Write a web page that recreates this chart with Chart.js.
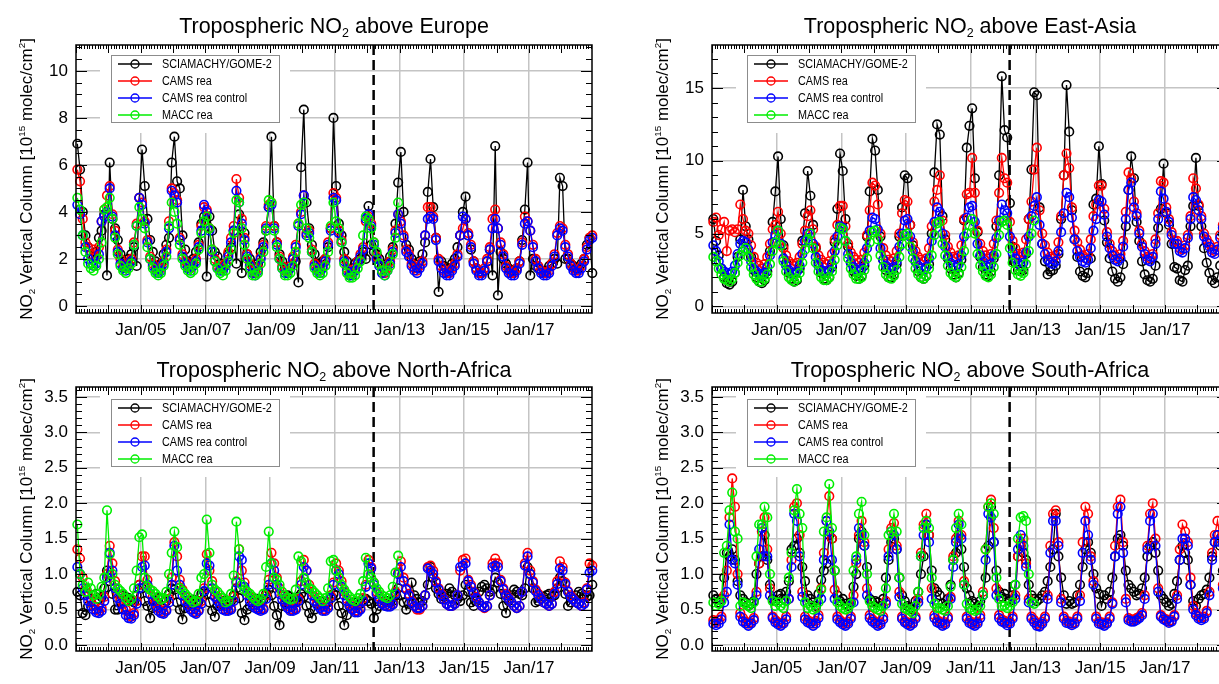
<!DOCTYPE html>
<html>
<head>
<meta charset="utf-8">
<title>Tropospheric NO2 columns</title>
<script src="https://cdn.jsdelivr.net/npm/chart.js@4.4.1/dist/chart.umd.min.js"></script>
<style>
  html, body { margin: 0; padding: 0; background: #fff; overflow: hidden; width: 1219px; height: 684px; }
  canvas { position: absolute; }
</style>
</head>
<body>
<canvas id="cEur" width="610" height="342" style="left:0;top:0"></canvas>
<canvas id="cAsia" width="610" height="342" style="left:636px;top:0"></canvas>
<canvas id="cNafr" width="610" height="342" style="left:0;top:342px"></canvas>
<canvas id="cSafr" width="610" height="342" style="left:636px;top:342px"></canvas>
<script>
// monthly means, Jan 2003 .. Dec 2018 (MACC rea stops Dec 2012)
const seriesLabels = ['SCIAMACHY/GOME-2', 'CAMS rea', 'CAMS rea control', 'MACC rea'];
const yearTicks = [2005, 2007, 2009, 2011, 2013, 2015, 2017];
const switchYear = 2012.2; // SCIAMACHY -> GOME-2
const euTicks = [0, 2, 4, 6, 8, 10];
const eaTicks = [0, 5, 10, 15];
const afTicks = [0, 0.5, 1, 1.5, 2, 2.5, 3, 3.5];

// ---- Europe ----
const euSat = [
  6.9, 5.8, 4.0, 3.0, 2.5, 2.2, 2.1, 2.3, 2.9, 3.2, 3.9, 1.3,
  6.1, 3.7, 3.3, 2.8, 2.2, 1.9, 1.8, 2.0, 2.2, 2.5, 1.7, 4.6,
  6.65, 5.1, 3.7, 2.8, 2.3, 1.9, 1.7, 1.8, 2.2, 2.6, 2.9, 6.1,
  7.2, 5.3, 5.0, 3.0, 2.4, 1.9, 1.8, 2.0, 2.3, 2.7, 3.5, 3.8,
  1.25, 3.8, 3.2, 2.3, 2.1, 1.8, 1.7, 1.8, 2.2, 2.5, 3.2, 1.8,
  3.9, 1.4, 3.1, 2.2, 2.0, 1.7, 1.6, 1.8, 2.3, 2.7, 3.2, 4.2,
  7.2, 3.4, 2.7, 2.2, 1.9, 1.6, 1.5, 1.7, 2.0, 1.9, 1.0, 5.9,
  8.35, 4.4, 3.3, 2.6, 2.2, 1.8, 1.7, 1.9, 2.0, 2.5, 3.3, 8.0,
  5.1, 3.5, 3.0, 2.3, 1.9, 1.3, 1.6, 1.8, 1.9, 2.0, 2.3, 2.0,
  4.25, 2.6, 2.3, 2.2, 2.0, 1.7, 1.6, 1.8, 2.1, 2.5, 3.5, 5.25,
  6.55, 4.0, 2.6, 2.4, 2.0, 1.8, 1.6, 1.9, 2.2, 2.7, 4.85, 6.25,
  4.2, 2.9, 0.6, 1.9, 1.7, 1.6, 1.6, 1.8, 2.0, 2.5, 3.0, 4.0,
  4.65, 3.0, 2.4, 1.9, 1.6, 1.4, 1.4, 1.5, 1.9, 2.4, 1.3, 6.8,
  0.45, 2.3, 2.0, 1.8, 1.6, 1.5, 1.5, 1.6, 1.9, 2.8, 4.1, 6.1,
  1.3, 2.0, 1.7, 1.6, 1.5, 1.4, 1.5, 1.7, 1.8, 2.0, 1.8, 5.45,
  5.1, 2.0, 2.0, 1.8, 1.7, 1.6, 1.6, 1.8, 2.0, 2.6, 2.9, 1.4
];
const euCams = [
  5.8, 5.3, 3.7, 2.7, 2.5, 2.2, 2.4, 2.1, 2.5, 3.6, 4.1, 4.7,
  5.1, 3.9, 3.2, 2.4, 2.0, 1.7, 1.6, 1.8, 2.0, 2.7, 3.5, 4.6,
  4.4, 3.6, 2.8, 2.1, 1.8, 1.6, 1.5, 1.6, 1.9, 2.4, 3.6, 5.0,
  4.8, 4.5, 2.9, 2.2, 1.9, 1.7, 1.6, 1.8, 2.0, 2.6, 3.4, 4.2,
  4.1, 3.3, 2.4, 2.0, 1.7, 1.6, 1.6, 1.8, 2.3, 2.9, 3.4, 5.4,
  4.6, 3.7, 2.9, 2.2, 1.8, 1.5, 1.4, 1.6, 2.1, 2.6, 3.4, 4.3,
  4.4, 3.4, 2.7, 2.1, 1.7, 1.5, 1.5, 1.7, 2.1, 2.6, 3.5, 4.0,
  4.7, 3.1, 3.2, 2.4, 1.8, 1.6, 1.5, 1.7, 2.0, 2.7, 3.3, 4.8,
  4.6, 3.2, 2.8, 2.0, 1.6, 1.4, 1.4, 1.6, 1.9, 2.2, 2.5, 3.6,
  3.8, 3.5, 2.7, 2.1, 1.8, 1.5, 1.4, 1.6, 1.9, 2.4, 3.2, 3.9,
  3.6, 3.0, 2.4, 2.2, 1.8, 1.6, 1.5, 1.7, 1.9, 3.0, 4.2, 4.2,
  3.8, 2.9, 2.0, 1.7, 1.5, 1.4, 1.4, 1.6, 1.8, 2.2, 3.0, 3.3,
  3.7, 3.1, 2.6, 1.9, 1.6, 1.4, 1.4, 1.6, 2.0, 2.5, 3.7, 4.1,
  3.3, 2.7, 2.2, 1.7, 1.5, 1.4, 1.4, 1.6, 1.9, 2.7, 3.8, 3.6,
  3.2, 2.6, 2.0, 1.7, 1.5, 1.4, 1.4, 1.5, 1.8, 2.2, 3.1, 3.4,
  3.3, 2.6, 2.2, 1.8, 1.6, 1.5, 1.5, 1.7, 2.0, 2.5, 2.9, 3.0
];
const euCtl = [
  4.3, 3.9, 3.0, 2.5, 2.0, 1.8, 1.7, 1.8, 2.2, 3.6, 3.8, 4.0,
  5.0, 3.8, 3.0, 2.3, 1.8, 1.6, 1.5, 1.7, 1.9, 2.6, 3.4, 4.6,
  4.3, 3.5, 2.7, 2.0, 1.7, 1.5, 1.4, 1.5, 1.8, 2.3, 3.3, 4.9,
  4.7, 4.4, 2.8, 2.1, 1.8, 1.6, 1.5, 1.7, 1.9, 2.5, 3.2, 4.3,
  4.0, 3.2, 2.3, 1.9, 1.6, 1.5, 1.5, 1.7, 2.1, 2.7, 3.2, 4.9,
  4.4, 3.5, 2.8, 2.1, 1.7, 1.4, 1.3, 1.5, 2.0, 2.5, 3.3, 4.2,
  4.3, 3.3, 2.6, 2.0, 1.6, 1.4, 1.4, 1.6, 2.0, 2.5, 3.4, 3.9,
  4.7, 3.0, 3.1, 2.3, 1.7, 1.5, 1.4, 1.6, 1.9, 2.6, 3.2, 4.6,
  4.5, 3.1, 2.7, 1.9, 1.5, 1.3, 1.3, 1.5, 1.8, 2.1, 2.4, 3.7,
  3.9, 3.4, 2.6, 2.0, 1.7, 1.4, 1.3, 1.5, 1.8, 2.3, 3.1, 3.9,
  3.5, 2.9, 2.3, 2.1, 1.7, 1.5, 1.4, 1.6, 1.8, 3.0, 3.7, 3.8,
  3.7, 2.8, 1.9, 1.6, 1.4, 1.3, 1.3, 1.5, 1.7, 2.1, 3.0, 3.8,
  3.7, 3.0, 2.5, 1.8, 1.5, 1.3, 1.3, 1.5, 1.9, 2.4, 3.3, 3.7,
  3.3, 2.6, 2.1, 1.6, 1.4, 1.3, 1.3, 1.5, 1.8, 2.6, 3.5, 3.6,
  3.2, 2.5, 1.9, 1.6, 1.4, 1.3, 1.3, 1.4, 1.7, 2.1, 3.0, 3.3,
  3.2, 2.5, 2.1, 1.7, 1.5, 1.4, 1.4, 1.6, 1.9, 2.4, 2.8, 2.9
];
const euMacc = [
  4.6, 4.1, 3.0, 2.3, 1.8, 1.6, 1.5, 1.7, 2.0, 2.7, 4.1, 4.2,
  4.6, 3.7, 2.9, 2.2, 1.7, 1.5, 1.4, 1.6, 1.8, 2.6, 3.4, 4.2,
  3.7, 3.3, 2.5, 2.0, 1.6, 1.4, 1.3, 1.4, 1.7, 2.1, 3.4, 4.4,
  4.0, 3.5, 2.6, 2.0, 1.7, 1.5, 1.4, 1.5, 1.8, 2.4, 3.1, 3.6,
  3.8, 3.3, 2.4, 1.9, 1.6, 1.4, 1.3, 1.5, 1.9, 2.4, 3.1, 4.5,
  4.4, 3.3, 2.6, 2.0, 1.6, 1.3, 1.3, 1.4, 1.8, 2.3, 3.2, 4.5,
  4.4, 3.2, 2.5, 2.0, 1.6, 1.3, 1.3, 1.4, 1.7, 2.3, 3.5, 4.3,
  4.4, 3.3, 2.9, 2.3, 1.6, 1.4, 1.3, 1.4, 1.7, 2.3, 3.4, 4.4,
  3.6, 3.3, 2.7, 1.8, 1.4, 1.2, 1.2, 1.3, 1.6, 1.9, 3.0, 3.8,
  3.7, 3.3, 2.7, 2.3, 1.8, 1.5, 1.3, 1.5, 1.7, 2.2, 2.9, 4.4
];

// ---- East-Asia ----
const eaSat = [
  6.0, 4.5, 3.5, 2.6, 2.0, 1.6, 1.5, 1.7, 2.3, 3.4, 4.6, 8.0,
  5.5, 4.6, 3.4, 2.5, 2.0, 1.7, 1.6, 1.8, 2.4, 3.8, 5.8, 7.9,
  10.3, 6.0, 4.2, 3.0, 2.3, 1.9, 1.7, 1.8, 2.6, 4.5, 6.4, 9.3,
  7.6, 5.6, 4.0, 3.0, 2.3, 1.9, 1.8, 2.0, 2.7, 4.4, 6.7, 10.5,
  9.3, 6.0, 4.1, 3.0, 2.4, 2.1, 1.9, 2.1, 2.8, 4.8, 7.9, 11.5,
  10.7, 8.0, 4.8, 3.2, 2.5, 2.0, 2.0, 2.2, 2.9, 4.8, 6.8, 9.0,
  8.8, 5.6, 4.2, 3.1, 2.4, 2.0, 1.9, 2.1, 2.9, 5.0, 9.2, 12.5,
  11.8, 6.2, 4.6, 3.3, 2.6, 2.2, 2.0, 2.3, 3.2, 5.9, 10.9, 12.4,
  13.6, 8.8, 5.1, 3.4, 2.7, 2.2, 2.1, 2.4, 3.3, 5.5, 9.0, 15.8,
  12.1, 11.6, 7.1, 4.1, 3.0, 2.5, 2.4, 2.5, 3.6, 6.0, 9.4, 14.7,
  14.5, 6.8, 4.3, 3.1, 2.2, 2.4, 2.5, 2.8, 3.6, 6.0, 9.0, 15.2,
  12.0, 6.6, 4.6, 3.4, 2.4, 2.1, 2.0, 2.3, 3.3, 7.0, 7.4, 11.0,
  8.4, 5.9, 4.4, 3.3, 2.4, 1.9, 1.7, 2.0, 2.9, 5.5, 8.0, 10.3,
  8.8, 5.8, 4.5, 3.1, 2.2, 1.8, 1.7, 1.9, 2.8, 5.4, 6.7, 9.8,
  6.4, 5.6, 4.3, 2.7, 2.6, 1.8, 1.7, 2.5, 2.8, 5.5, 6.9, 10.2,
  6.9, 5.5, 4.0, 3.0, 2.3, 1.8, 1.6, 2.0, 2.8, 5.0, 7.0, 9.5
];
const eaCams = [
  5.8, 6.1, 4.9, 5.3, 5.8, 3.8, 5.2, 5.3, 5.1, 5.3, 7.0, 6.0,
  5.2, 5.0, 4.2, 3.4, 3.0, 2.8, 2.6, 2.9, 3.4, 4.3, 5.3, 5.6,
  6.5, 5.0, 4.0, 3.5, 3.1, 2.9, 2.8, 3.0, 3.4, 4.3, 5.2, 6.2,
  6.6, 5.3, 4.1, 3.5, 3.2, 3.0, 2.9, 3.1, 3.6, 4.6, 5.6, 6.9,
  6.9, 5.5, 4.3, 3.7, 3.4, 3.2, 3.0, 3.2, 3.7, 4.9, 6.6, 8.5,
  8.3, 7.0, 5.0, 4.0, 3.5, 3.2, 3.1, 3.3, 3.8, 5.0, 6.4, 7.3,
  7.2, 5.6, 4.4, 3.8, 3.4, 3.2, 3.1, 3.3, 4.0, 5.5, 7.2, 8.0,
  9.0, 5.9, 4.9, 4.1, 3.7, 3.4, 3.3, 3.5, 4.2, 6.0, 7.7, 7.8,
  10.2, 7.8, 5.2, 4.3, 3.8, 3.5, 3.3, 3.6, 4.3, 5.9, 7.8, 10.2,
  8.8, 8.5, 5.8, 4.5, 4.0, 3.6, 3.4, 3.7, 4.6, 6.0, 7.2, 9.4,
  10.9, 6.6, 5.0, 4.2, 3.7, 3.4, 3.3, 3.5, 4.4, 6.2, 9.0, 10.5,
  9.5, 6.8, 5.2, 4.4, 3.9, 3.5, 3.3, 3.6, 4.6, 6.2, 7.0, 8.3,
  8.3, 6.7, 5.1, 4.3, 3.8, 3.5, 3.3, 3.6, 4.5, 6.5, 9.2, 8.8,
  7.2, 6.4, 5.2, 4.3, 3.8, 3.4, 3.3, 3.6, 4.6, 6.4, 8.6, 8.5,
  6.8, 6.0, 5.1, 4.5, 4.5, 4.0, 3.9, 4.2, 4.9, 6.2, 8.8, 8.1,
  7.0, 6.2, 5.0, 4.6, 4.3, 3.9, 3.8, 4.1, 4.9, 5.6, 6.8, 8.0
];
const eaCtl = [
  4.2, 3.8, 3.1, 2.6, 2.4, 2.3, 2.2, 2.4, 2.8, 3.6, 4.3, 4.5,
  4.4, 3.9, 3.1, 2.6, 2.4, 2.2, 2.1, 2.3, 2.7, 3.5, 4.4, 4.9,
  5.2, 4.3, 3.3, 2.8, 2.5, 2.3, 2.2, 2.4, 2.8, 3.6, 4.5, 5.0,
  5.0, 4.3, 3.4, 2.8, 2.5, 2.4, 2.3, 2.5, 2.9, 3.8, 4.8, 5.5,
  5.4, 4.5, 3.6, 3.0, 2.7, 2.5, 2.4, 2.6, 3.0, 4.0, 5.2, 6.1,
  6.0, 5.3, 4.0, 3.2, 2.8, 2.6, 2.5, 2.7, 3.1, 4.1, 5.0, 5.9,
  6.0, 4.8, 3.8, 3.1, 2.8, 2.6, 2.5, 2.7, 3.3, 4.5, 5.8, 6.8,
  6.5, 5.0, 4.1, 3.4, 3.0, 2.8, 2.7, 2.9, 3.5, 4.8, 6.1, 6.8,
  6.9, 5.8, 4.3, 3.5, 3.1, 2.8, 2.7, 2.9, 3.5, 4.7, 5.9, 7.0,
  6.6, 6.4, 4.8, 3.7, 3.3, 3.0, 2.8, 3.0, 3.7, 4.8, 6.2, 6.9,
  7.5, 5.6, 4.3, 3.6, 3.2, 3.0, 2.9, 3.1, 3.8, 5.1, 6.4, 7.8,
  7.5, 6.1, 4.6, 3.8, 3.4, 3.1, 3.0, 3.2, 4.0, 5.2, 6.0, 7.3,
  7.2, 6.3, 4.8, 4.0, 3.5, 3.2, 3.1, 3.3, 4.1, 6.0, 8.0, 8.5,
  6.8, 6.2, 5.0, 4.1, 3.6, 3.2, 3.1, 3.4, 4.3, 6.0, 7.9, 7.4,
  6.5, 5.8, 4.9, 4.3, 4.3, 3.8, 3.7, 4.0, 4.7, 6.0, 7.5, 7.3,
  6.6, 6.0, 4.8, 4.4, 4.1, 3.7, 3.6, 3.9, 4.7, 5.4, 6.5, 7.2
];
const eaMacc = [
  3.4, 3.1, 2.6, 2.2, 1.9, 1.8, 1.7, 1.9, 2.3, 3.0, 3.5, 3.8,
  4.0, 3.4, 2.7, 2.2, 1.9, 1.7, 1.7, 1.9, 2.2, 2.9, 3.8, 4.4,
  5.2, 4.2, 3.1, 2.4, 2.0, 1.8, 1.7, 1.9, 2.3, 3.0, 3.9, 4.6,
  5.0, 4.0, 3.0, 2.4, 2.0, 1.8, 1.8, 2.0, 2.4, 3.2, 4.2, 5.4,
  5.3, 4.5, 3.3, 2.6, 2.2, 1.9, 1.9, 2.0, 2.5, 3.3, 4.4, 5.1,
  5.2, 4.6, 3.5, 2.7, 2.2, 2.0, 1.9, 2.1, 2.5, 3.4, 4.3, 4.9,
  5.0, 4.1, 3.3, 2.6, 2.2, 2.0, 1.9, 2.1, 2.6, 3.5, 4.9, 5.7,
  5.8, 4.3, 3.5, 2.8, 2.3, 2.1, 2.0, 2.2, 2.7, 3.8, 5.0, 5.6,
  6.0, 5.0, 3.6, 2.8, 2.4, 2.1, 2.0, 2.2, 2.7, 3.6, 4.9, 5.8,
  5.9, 5.6, 4.0, 3.0, 2.5, 2.2, 2.1, 2.3, 2.9, 3.8, 5.0, 5.9
];

// ---- North-Africa ----
const naSat = [
  0.75, 0.70, 0.45, 0.42, 0.55, 0.65, 0.70, 0.72, 0.65, 0.68, 0.80, 1.05,
  0.90, 0.72, 0.50, 0.50, 0.62, 0.70, 0.68, 0.66, 0.62, 0.60, 0.70, 0.85,
  0.80, 0.62, 0.55, 0.38, 0.52, 0.62, 0.66, 0.64, 0.60, 0.62, 0.72, 0.80,
  0.78, 0.60, 0.50, 0.36, 0.52, 0.58, 0.62, 0.64, 0.60, 0.62, 0.72, 0.75,
  0.72, 0.60, 0.48, 0.40, 0.55, 0.58, 0.62, 0.63, 0.58, 0.62, 0.70, 0.80,
  0.66, 0.45, 0.35, 0.50, 0.55, 0.60, 0.65, 0.65, 0.62, 0.64, 0.72, 0.78,
  0.70, 0.55, 0.42, 0.28, 0.55, 0.60, 0.70, 0.68, 0.62, 0.60, 0.68, 0.72,
  0.68, 0.55, 0.45, 0.38, 0.50, 0.58, 0.62, 0.62, 0.58, 0.60, 0.66, 0.72,
  0.70, 0.55, 0.45, 0.28, 0.42, 0.55, 0.58, 0.60, 0.56, 0.58, 0.62, 0.65,
  0.62, 0.58, 0.38, 0.50, 0.55, 0.60, 0.62, 0.62, 0.60, 0.62, 0.70, 0.80,
  0.70, 0.60, 0.50, 0.58, 0.88, 0.70, 0.65, 0.60, 0.62, 0.70, 0.85, 1.10,
  0.95, 0.80, 0.72, 0.65, 0.68, 0.72, 0.80, 0.75, 0.70, 0.65, 0.62, 0.70,
  0.85, 0.75, 0.60, 0.55, 0.62, 0.75, 0.82, 0.85, 0.80, 0.75, 0.78, 0.95,
  0.88, 0.72, 0.55, 0.45, 0.62, 0.70, 0.78, 0.75, 0.72, 0.70, 0.80, 1.10,
  1.00, 0.80, 0.60, 0.62, 0.65, 0.68, 0.70, 0.72, 0.68, 0.70, 0.80, 0.95,
  0.90, 0.72, 0.55, 0.60, 0.65, 0.70, 0.75, 0.72, 0.70, 0.68, 0.70, 0.85
];
const naCams = [
  1.35, 1.22, 0.95, 0.80, 0.72, 0.62, 0.55, 0.50, 0.48, 0.52, 0.68, 1.00,
  1.40, 1.15, 0.90, 0.72, 0.65, 0.58, 0.50, 0.42, 0.40, 0.45, 0.62, 0.85,
  1.25, 1.25, 0.92, 0.78, 0.68, 0.60, 0.52, 0.48, 0.46, 0.50, 0.65, 0.95,
  1.45, 1.25, 0.92, 0.78, 0.68, 0.60, 0.55, 0.50, 0.46, 0.50, 0.62, 0.80,
  1.28, 1.05, 0.90, 0.75, 0.68, 0.60, 0.55, 0.50, 0.50, 0.52, 0.68, 0.90,
  1.35, 1.05, 0.88, 0.75, 0.68, 0.62, 0.56, 0.52, 0.50, 0.52, 0.70, 0.92,
  1.30, 1.15, 0.95, 0.80, 0.70, 0.62, 0.55, 0.50, 0.50, 0.52, 0.65, 0.90,
  1.20, 1.05, 0.85, 0.75, 0.68, 0.60, 0.55, 0.50, 0.50, 0.55, 0.70, 0.88,
  1.15, 1.05, 0.90, 0.75, 0.65, 0.58, 0.52, 0.48, 0.48, 0.52, 0.66, 0.85,
  1.20, 1.10, 0.88, 0.75, 0.68, 0.60, 0.56, 0.55, 0.55, 0.58, 0.75, 1.02,
  1.18, 0.95, 0.80, 0.72, 0.62, 0.55, 0.50, 0.50, 0.55, 0.70, 1.10, 1.12,
  1.05, 0.90, 0.80, 0.72, 0.65, 0.58, 0.55, 0.55, 0.58, 0.70, 1.05, 1.20,
  1.22, 0.92, 0.85, 0.75, 0.68, 0.60, 0.55, 0.52, 0.55, 0.70, 1.15, 1.22,
  1.15, 0.92, 0.80, 0.72, 0.66, 0.60, 0.55, 0.52, 0.55, 0.75, 1.15, 1.30,
  1.05, 0.90, 0.78, 0.72, 0.66, 0.60, 0.58, 0.55, 0.58, 0.75, 0.90, 1.18,
  1.10, 0.88, 0.76, 0.70, 0.65, 0.60, 0.58, 0.55, 0.60, 0.80, 1.15, 1.12
];
const naCtl = [
  1.10, 1.00, 0.80, 0.70, 0.62, 0.55, 0.50, 0.46, 0.45, 0.48, 0.62, 0.95,
  1.30, 1.05, 0.80, 0.66, 0.58, 0.50, 0.42, 0.38, 0.37, 0.42, 0.58, 0.80,
  1.10, 1.12, 0.85, 0.72, 0.62, 0.55, 0.48, 0.45, 0.44, 0.48, 0.60, 0.85,
  1.40, 1.05, 0.85, 0.70, 0.62, 0.55, 0.50, 0.46, 0.44, 0.48, 0.58, 0.76,
  1.15, 1.12, 0.80, 0.68, 0.62, 0.55, 0.50, 0.48, 0.48, 0.50, 0.62, 0.88,
  1.25, 1.20, 0.82, 0.70, 0.62, 0.56, 0.52, 0.50, 0.48, 0.50, 0.65, 0.85,
  1.15, 1.05, 0.85, 0.72, 0.64, 0.58, 0.52, 0.48, 0.48, 0.50, 0.62, 0.85,
  1.10, 1.05, 0.80, 0.70, 0.62, 0.56, 0.52, 0.48, 0.48, 0.52, 0.66, 0.85,
  1.05, 1.00, 0.82, 0.70, 0.62, 0.55, 0.50, 0.46, 0.46, 0.50, 0.62, 0.82,
  1.15, 1.08, 0.85, 0.72, 0.65, 0.58, 0.55, 0.54, 0.54, 0.57, 0.72, 1.00,
  1.10, 0.90, 0.78, 0.70, 0.60, 0.55, 0.52, 0.52, 0.55, 0.70, 1.08, 1.05,
  1.00, 0.88, 0.78, 0.70, 0.64, 0.58, 0.55, 0.55, 0.58, 0.70, 1.10, 1.12,
  1.15, 0.90, 0.82, 0.74, 0.66, 0.60, 0.55, 0.53, 0.55, 0.70, 1.10, 1.12,
  1.10, 0.90, 0.78, 0.70, 0.65, 0.60, 0.55, 0.52, 0.55, 0.75, 1.12, 1.25,
  1.00, 0.88, 0.76, 0.70, 0.65, 0.60, 0.58, 0.55, 0.58, 0.72, 0.86, 1.08,
  1.05, 0.86, 0.75, 0.68, 0.64, 0.60, 0.58, 0.55, 0.58, 0.78, 1.02, 1.05
];
const naMacc = [
  1.70, 1.00, 0.85, 0.75, 0.88, 0.80, 0.70, 0.65, 0.72, 0.82, 0.95, 1.90,
  1.28, 1.00, 0.85, 0.80, 0.76, 0.72, 0.66, 0.62, 0.65, 0.80, 1.05, 1.52,
  1.56, 0.95, 0.82, 0.78, 0.76, 0.72, 0.68, 0.64, 0.66, 0.75, 1.00, 1.30,
  1.60, 1.38, 0.80, 0.76, 0.72, 0.68, 0.64, 0.60, 0.62, 0.72, 0.95, 1.00,
  1.77, 1.30, 0.85, 0.78, 0.75, 0.70, 0.66, 0.60, 0.62, 0.72, 0.98, 1.74,
  1.35, 0.85, 0.78, 0.75, 0.72, 0.68, 0.64, 0.62, 0.65, 0.72, 1.10, 1.60,
  1.15, 0.95, 0.92, 0.85, 0.75, 0.70, 0.66, 0.64, 0.65, 0.78, 1.25, 1.18,
  0.95, 0.88, 0.80, 0.78, 0.74, 0.70, 0.66, 0.62, 0.66, 0.80, 1.18, 1.20,
  1.05, 0.95, 0.85, 0.78, 0.72, 0.68, 0.64, 0.62, 0.66, 0.72, 0.90, 1.23,
  1.00, 0.95, 0.88, 0.80, 0.75, 0.70, 0.68, 0.66, 0.70, 0.82, 1.02, 1.26
];

// ---- South-Africa ----
const saSat = [
  0.70, 0.65, 0.60, 0.65, 0.95, 1.30, 1.25, 1.35, 1.20, 0.90, 0.70, 0.65,
  0.60, 0.55, 0.58, 0.62, 1.00, 1.15, 1.25, 1.55, 1.20, 0.85, 0.65, 0.62,
  0.70, 0.72, 0.65, 0.75, 0.90, 1.35, 1.40, 1.50, 1.30, 1.10, 0.90, 0.70,
  0.65, 0.60, 0.55, 0.72, 0.92, 1.05, 1.15, 1.55, 1.50, 1.05, 0.70, 0.62,
  0.65, 0.58, 0.55, 0.60, 0.82, 1.00, 1.50, 1.60, 1.40, 1.10, 0.65, 0.60,
  0.62, 0.60, 0.55, 0.65, 0.95, 1.20, 1.45, 1.50, 1.35, 0.95, 0.70, 0.62,
  0.55, 0.52, 0.50, 0.62, 0.75, 1.00, 1.25, 1.70, 1.55, 1.05, 0.80, 0.75,
  0.70, 0.58, 0.55, 0.65, 0.85, 1.20, 1.30, 1.55, 1.35, 1.10, 0.80, 0.70,
  0.62, 0.58, 0.55, 0.62, 0.70, 0.95, 1.40, 1.95, 1.45, 1.05, 0.75, 0.68,
  0.72, 0.65, 0.62, 0.70, 0.85, 1.25, 1.40, 1.30, 1.20, 0.85, 0.70, 0.65,
  0.62, 0.65, 0.70, 0.75, 0.90, 1.10, 1.35, 1.85, 1.25, 0.95, 0.70, 0.58,
  0.62, 0.58, 0.60, 0.70, 0.85, 1.10, 1.35, 1.45, 1.30, 1.00, 0.80, 0.72,
  0.55, 0.70, 0.65, 0.75, 0.95, 1.25, 1.50, 1.55, 1.40, 1.05, 0.85, 0.80,
  0.75, 0.70, 0.72, 0.80, 0.95, 1.25, 1.40, 1.45, 1.30, 1.05, 0.70, 0.65,
  0.60, 0.55, 0.58, 0.72, 0.90, 1.20, 1.40, 1.30, 1.20, 0.85, 0.62, 0.55,
  0.65, 0.70, 0.72, 0.78, 0.95, 1.25, 1.45, 1.55, 1.40, 1.05, 0.85, 0.70
];
const saCams = [
  0.35, 0.32, 0.35, 0.40, 0.70, 1.05, 1.80, 2.35, 1.95, 1.00, 0.45, 0.38,
  0.33, 0.30, 0.32, 0.38, 0.75, 1.15, 1.60, 1.80, 1.35, 0.80, 0.40, 0.35,
  0.32, 0.30, 0.32, 0.40, 0.65, 1.20, 1.95, 2.00, 1.55, 0.75, 0.40, 0.35,
  0.33, 0.30, 0.34, 0.42, 0.80, 1.30, 1.75, 2.10, 1.50, 0.78, 0.40, 0.35,
  0.32, 0.30, 0.33, 0.40, 0.70, 1.15, 1.55, 1.75, 1.45, 0.80, 0.42, 0.36,
  0.33, 0.30, 0.32, 0.40, 0.62, 1.35, 1.65, 1.72, 1.40, 0.75, 0.40, 0.34,
  0.32, 0.30, 0.32, 0.40, 0.65, 1.30, 1.70, 1.85, 1.55, 0.80, 0.42, 0.35,
  0.33, 0.30, 0.32, 0.40, 0.68, 1.25, 1.50, 1.75, 1.55, 0.90, 0.40, 0.34,
  0.32, 0.30, 0.33, 0.42, 0.75, 1.35, 1.95, 2.05, 1.65, 0.80, 0.42, 0.36,
  0.34, 0.31, 0.33, 0.40, 0.70, 1.25, 1.45, 1.50, 1.15, 0.65, 0.40, 0.35,
  0.30, 0.28, 0.33, 0.40, 0.70, 1.40, 1.85, 1.90, 1.45, 0.65, 0.40, 0.34,
  0.33, 0.30, 0.32, 0.40, 0.70, 1.45, 1.95, 1.85, 1.25, 0.90, 0.40, 0.33,
  0.32, 0.30, 0.32, 0.40, 0.60, 1.40, 1.95, 2.05, 1.45, 0.65, 0.38, 0.36,
  0.35, 0.38, 0.40, 0.45, 0.70, 1.40, 1.85, 2.00, 1.50, 0.80, 0.42, 0.38,
  0.36, 0.33, 0.35, 0.42, 0.70, 1.35, 1.70, 1.60, 1.45, 0.95, 0.55, 0.45,
  0.40, 0.38, 0.40, 0.48, 0.75, 1.30, 1.55, 1.75, 1.50, 0.85, 0.45, 0.40
];
const saCtl = [
  0.30, 0.28, 0.30, 0.36, 0.60, 0.75, 1.70, 1.20, 1.15, 0.85, 0.40, 0.33,
  0.30, 0.27, 0.30, 0.35, 0.70, 1.35, 1.65, 1.25, 1.25, 0.70, 0.38, 0.32,
  0.29, 0.27, 0.30, 0.36, 0.65, 1.10, 1.85, 1.75, 1.25, 0.68, 0.36, 0.32,
  0.30, 0.27, 0.30, 0.38, 0.65, 1.20, 1.75, 1.60, 1.20, 0.65, 0.36, 0.32,
  0.29, 0.27, 0.30, 0.37, 0.60, 1.20, 1.65, 1.55, 1.40, 0.70, 0.38, 0.33,
  0.30, 0.27, 0.29, 0.36, 0.58, 1.25, 1.60, 1.55, 1.35, 0.68, 0.37, 0.32,
  0.29, 0.27, 0.30, 0.37, 0.60, 1.25, 1.55, 1.70, 1.45, 0.65, 0.38, 0.32,
  0.30, 0.27, 0.29, 0.37, 0.65, 1.10, 1.45, 1.70, 1.50, 0.85, 0.37, 0.31,
  0.29, 0.27, 0.30, 0.38, 0.70, 1.20, 1.85, 1.80, 1.45, 0.70, 0.38, 0.33,
  0.31, 0.28, 0.30, 0.37, 0.65, 1.35, 1.55, 1.40, 1.10, 0.60, 0.37, 0.32,
  0.27, 0.26, 0.30, 0.37, 0.65, 1.30, 1.75, 1.75, 1.40, 0.60, 0.37, 0.31,
  0.30, 0.28, 0.30, 0.37, 0.62, 1.30, 1.75, 1.55, 1.20, 0.85, 0.37, 0.30,
  0.29, 0.27, 0.30, 0.37, 0.58, 1.25, 1.85, 1.95, 1.30, 0.60, 0.35, 0.33,
  0.33, 0.35, 0.38, 0.42, 0.65, 1.35, 1.75, 1.85, 1.40, 0.75, 0.40, 0.36,
  0.34, 0.31, 0.33, 0.40, 0.65, 1.20, 1.50, 1.50, 1.40, 0.85, 0.50, 0.42,
  0.37, 0.35, 0.37, 0.45, 0.70, 1.20, 1.45, 1.55, 1.45, 0.80, 0.42, 0.38
];
const saMacc = [
  0.60, 0.55, 0.58, 0.62, 1.30, 1.40, 1.90, 2.15, 1.60, 1.50, 0.55, 0.60,
  0.58, 0.55, 0.52, 0.60, 1.25, 1.70, 1.70, 1.95, 1.80, 1.00, 0.62, 0.55,
  0.60, 0.55, 0.52, 0.62, 0.95, 1.30, 1.90, 2.20, 1.85, 1.65, 0.60, 0.52,
  0.55, 0.50, 0.52, 0.60, 0.78, 1.60, 1.80, 2.27, 1.65, 1.05, 0.60, 0.55,
  0.52, 0.50, 0.52, 0.58, 1.05, 1.25, 1.85, 2.02, 1.55, 1.00, 0.62, 0.55,
  0.52, 0.50, 0.48, 0.55, 0.80, 1.55, 1.60, 1.85, 1.60, 0.95, 0.58, 0.52,
  0.50, 0.48, 0.45, 0.55, 0.75, 1.25, 1.65, 1.75, 1.65, 0.95, 0.58, 0.52,
  0.52, 0.50, 0.48, 0.55, 0.82, 1.20, 1.65, 1.85, 1.70, 0.85, 0.58, 0.52,
  0.50, 0.48, 0.50, 0.55, 0.70, 1.35, 1.95, 2.00, 1.85, 0.95, 0.65, 0.55,
  0.55, 0.52, 0.55, 0.60, 0.85, 1.50, 1.80, 1.82, 1.75, 1.00, 0.60, 0.58
];

const FONT = "'Liberation Sans', Arial, Helvetica, sans-serif";
const colors = ['#000000', '#ff0000', '#0000ff', '#00ee00'];

// month index -> decimal year at mid-month
function monthly(vals) {
  return vals.map((v, i) => ({ x: 2003 + (i + 0.5) / 12, y: v }));
}

// text with sub/superscript pieces, centred on the current origin
function drawRich(ctx, parts, size) {
  let total = 0;
  const pieces = parts.map(([t, kind]) => {
    const s = kind ? size * 0.58 : size;
    ctx.font = `${s}px ${FONT}`;
    const w = ctx.measureText(t).width;
    total += w;
    return { t, s, w, dy: kind === 'sub' ? size * 0.2 : kind === 'sup' ? -size * 0.42 : 0 };
  });
  let cx = -total / 2;
  pieces.forEach(p => {
    ctx.font = `${p.s}px ${FONT}`;
    ctx.fillText(p.t, cx, p.dy);
    cx += p.w;
  });
}

function decorPlugin(p) {
  return {
    id: 'decor',
    beforeDatasetsDraw(chart) {
      const { ctx, chartArea: a, scales: { x } } = chart;
      const lx = a.left + 35, ly = a.top + p.legendTop, lw = 168, lh = 67;
      ctx.save();
      ctx.beginPath();
      ctx.rect(a.left, a.top, a.right - a.left, a.bottom - a.top);
      ctx.clip();
      // keep the grid clear around the legend
      ctx.fillStyle = '#fff';
      ctx.fillRect(lx - 11, ly - 11, lw + 22, lh + 22);
      // end of SCIAMACHY record
      const sx = x.getPixelForValue(switchYear);
      ctx.strokeStyle = '#000';
      ctx.lineWidth = 2.5;
      ctx.setLineDash([10, 5]);
      ctx.beginPath();
      ctx.moveTo(sx, a.top);
      ctx.lineTo(sx, a.bottom);
      ctx.stroke();
      ctx.setLineDash([]);
      // legend
      ctx.strokeStyle = '#8c8c8c';
      ctx.lineWidth = 1;
      ctx.strokeRect(lx + 0.5, ly + 0.5, lw, lh);
      ctx.font = `12px ${FONT}`;
      ctx.textBaseline = 'middle';
      ctx.textAlign = 'left';
      seriesLabels.forEach((lab, i) => {
        const ry = ly + 9 + i * 17;
        ctx.strokeStyle = colors[i];
        ctx.lineWidth = 1.3;
        ctx.beginPath();
        ctx.moveTo(lx + 7, ry);
        ctx.lineTo(lx + 41, ry);
        ctx.stroke();
        ctx.beginPath();
        ctx.arc(lx + 24, ry, 4, 0, Math.PI * 2);
        ctx.stroke();
        ctx.fillStyle = '#000';
        ctx.save();
        ctx.translate(lx + 51, ry + 0.5);
        ctx.scale(0.9, 1);
        ctx.fillText(lab, 0, 0);
        ctx.restore();
      });
      ctx.restore();
    },
    afterDatasetsDraw(chart) {
      const { ctx, chartArea: a, scales: { x, y } } = chart;
      ctx.save();
      ctx.strokeStyle = '#000';
      ctx.lineWidth = 1.5;
      ctx.strokeRect(a.left, a.top, a.right - a.left, a.bottom - a.top);
      ctx.lineWidth = 1;
      ctx.beginPath();
      // monthly ticks on bottom and top
      for (let m = 0; m <= 16 * 12; m++) {
        const px = Math.round(x.getPixelForValue(2003 + m / 12)) + 0.5;
        if (px < a.left || px > a.right) continue;
        const len = m % 12 === 0 ? 8 : 4;
        ctx.moveTo(px, a.bottom); ctx.lineTo(px, a.bottom - len);
        ctx.moveTo(px, a.top); ctx.lineTo(px, a.top + len);
      }
      // minor and major ticks on left and right
      const nMinor = Math.round(p.yMax / p.minor);
      for (let k = 0; k <= nMinor; k++) {
        const v = k * p.minor;
        const py = Math.round(y.getPixelForValue(v)) + 0.5;
        if (py < a.top || py > a.bottom) continue;
        const major = p.yTicks.some(t => Math.abs(t - v) < 1e-6);
        const len = major ? 11 : 6;
        ctx.moveTo(a.left, py); ctx.lineTo(a.left + len, py);
        ctx.moveTo(a.right, py); ctx.lineTo(a.right - len, py);
      }
      ctx.stroke();
      ctx.restore();
    },
    afterDraw(chart) {
      const { ctx, chartArea: a } = chart;
      ctx.save();
      ctx.fillStyle = '#000';
      ctx.textAlign = 'left';
      ctx.textBaseline = 'alphabetic';
      // panel title
      ctx.translate((a.left + a.right) / 2, p.titleY + 7.5);
      drawRich(ctx, [['Tropospheric NO'], ['2', 'sub'], [' above ' + p.region]], 21.5);
      ctx.restore();
      // y axis title
      ctx.save();
      ctx.fillStyle = '#000';
      ctx.textAlign = 'left';
      ctx.textBaseline = 'alphabetic';
      ctx.translate(26 + 6, (a.top + a.bottom) / 2);
      ctx.rotate(-Math.PI / 2);
      drawRich(ctx, [['NO'], ['2', 'sub'], [' Vertical Column [10'], ['15', 'sup'], [' molec/cm'], ['2', 'sup'], [']']], 17);
      ctx.restore();
    }
  };
}

function makePanel(p) {
  const ctx = document.getElementById(p.canvas).getContext('2d');
  const datasets = p.series.map((vals, i) => ({
    label: seriesLabels[i],
    data: monthly(vals),
    borderColor: colors[i],
    borderWidth: 1.3,
    pointStyle: 'circle',
    pointRadius: 4.3,
    pointBorderWidth: 1.6,
    pointBorderColor: colors[i],
    pointBackgroundColor: 'rgba(0,0,0,0)',
    fill: false,
    tension: 0,
    clip: false,
    order: 4 - i
  }));
  return new Chart(ctx, {
    type: 'line',
    data: { datasets: datasets },
    options: {
      responsive: false,
      animation: false,
      events: [],
      layout: { padding: { top: 45, right: 18, left: 0, bottom: 0 } },
      plugins: { legend: { display: false }, tooltip: { enabled: false }, title: { display: false } },
      scales: {
        x: {
          type: 'linear',
          min: 2003,
          max: 2018.95,
          afterBuildTicks: s => { s.ticks = yearTicks.map(v => ({ value: v })); },
          afterFit: s => { s.height = 342 - p.bottom; },
          ticks: {
            autoSkip: false,
            maxRotation: 0,
            padding: 7,
            color: '#000',
            font: { family: FONT, size: 17 },
            callback: v => 'Jan/' + String(v).slice(2)
          },
          grid: { color: '#c4c4c4', lineWidth: 1.5, drawTicks: false },
          border: { display: false }
        },
        y: {
          min: p.yMin,
          max: p.yMax,
          afterBuildTicks: s => { s.ticks = p.yTicks.map(v => ({ value: v })); },
          afterFit: s => { s.width = 76; },
          ticks: {
            padding: 8,
            color: '#000',
            font: { family: FONT, size: 17 },
            callback: v => v.toFixed(p.digits)
          },
          grid: { color: '#c4c4c4', lineWidth: 1.5, drawTicks: false },
          border: { display: false }
        }
      }
    },
    plugins: [decorPlugin(p)]
  });
}

document.addEventListener('DOMContentLoaded', function() {
  const panels = [
    { canvas: 'cEur', region: 'Europe', yMin: -0.3, yMax: 11.1, yTicks: euTicks, minor: 0.5, digits: 0,
      bottom: 313, titleY: 25, legendTop: 10, series: [euSat, euCams, euCtl, euMacc] },
    { canvas: 'cAsia', region: 'East-Asia', yMin: -0.45, yMax: 17.95, yTicks: eaTicks, minor: 1, digits: 0,
      bottom: 313, titleY: 25, legendTop: 10, series: [eaSat, eaCams, eaCtl, eaMacc] },
    { canvas: 'cNafr', region: 'North-Africa', yMin: -0.085, yMax: 3.64, yTicks: afTicks, minor: 0.1, digits: 1,
      bottom: 309, titleY: 27, legendTop: 12, series: [naSat, naCams, naCtl, naMacc] },
    { canvas: 'cSafr', region: 'South-Africa', yMin: -0.085, yMax: 3.64, yTicks: afTicks, minor: 0.1, digits: 1,
      bottom: 309, titleY: 27, legendTop: 12, series: [saSat, saCams, saCtl, saMacc] }
  ];
  panels.forEach(makePanel);
});
</script>
</body>
</html>
